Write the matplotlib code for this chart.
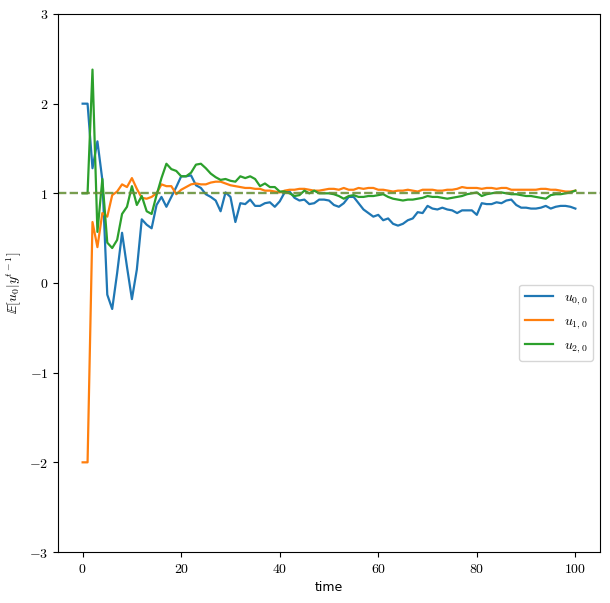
import matplotlib
matplotlib.use("Agg")
import matplotlib.pyplot as plt
from matplotlib.ticker import FuncFormatter
import numpy as np

plt.rcParams['mathtext.fontset'] = 'cm'

time = list(range(101))

u00 = [2.0, 2.0, 1.28, 1.58, 1.15, -0.13, -0.29, 0.11, 0.56, 0.18,
       -0.18, 0.15, 0.71, 0.65, 0.61, 0.87, 0.96, 0.85, 0.96, 1.07,
       1.19, 1.19, 1.20, 1.09, 1.06, 0.99, 0.96, 0.92, 0.80, 1.01,
       0.96, 0.68, 0.89, 0.88, 0.93, 0.86, 0.86, 0.89, 0.90, 0.85,
       0.91, 1.01, 1.02, 0.95, 0.92, 0.93, 0.88, 0.89, 0.93, 0.93,
       0.92, 0.87, 0.85, 0.89, 0.96, 0.96, 0.89, 0.82, 0.78, 0.74,
       0.76, 0.70, 0.72, 0.66, 0.64, 0.66, 0.70, 0.72, 0.79, 0.78,
       0.86, 0.83, 0.82, 0.84, 0.82, 0.81, 0.78, 0.81, 0.81, 0.81,
       0.76, 0.89, 0.88, 0.88, 0.90, 0.89, 0.92, 0.93, 0.87, 0.84,
       0.84, 0.83, 0.83, 0.84, 0.86, 0.83, 0.85, 0.86, 0.86, 0.85,
       0.83]

u10 = [-2.0, -2.0, 0.68, 0.40, 0.78, 0.74, 0.98, 1.02, 1.10, 1.07,
       1.17, 1.05, 0.95, 0.94, 0.96, 1.00, 1.10, 1.08, 1.08, 0.99,
       1.04, 1.07, 1.10, 1.11, 1.10, 1.10, 1.12, 1.13, 1.13, 1.11,
       1.09, 1.08, 1.07, 1.06, 1.06, 1.05, 1.05, 1.03, 1.03, 1.02,
       1.01, 1.03, 1.04, 1.04, 1.05, 1.05, 1.04, 1.03, 1.03, 1.04,
       1.05, 1.05, 1.04, 1.06, 1.04, 1.04, 1.06, 1.05, 1.06, 1.06,
       1.04, 1.04, 1.03, 1.02, 1.03, 1.03, 1.04, 1.03, 1.02, 1.04,
       1.04, 1.04, 1.03, 1.03, 1.04, 1.04, 1.05, 1.07, 1.06, 1.06,
       1.06, 1.05, 1.06, 1.06, 1.05, 1.06, 1.06, 1.04, 1.04, 1.04,
       1.04, 1.04, 1.04, 1.05, 1.05, 1.04, 1.04, 1.03, 1.02, 1.02,
       1.03]

u20 = [1.0, 1.0, 2.38, 0.57, 1.16, 0.45, 0.39, 0.48, 0.77, 0.85,
       1.08, 0.87, 0.97, 0.80, 0.77, 0.98, 1.17, 1.33, 1.27, 1.25,
       1.19, 1.19, 1.23, 1.32, 1.33, 1.28, 1.22, 1.18, 1.15, 1.16,
       1.14, 1.13, 1.19, 1.17, 1.19, 1.16, 1.08, 1.11, 1.07, 1.07,
       1.02, 1.02, 1.00, 0.97, 0.98, 1.03, 1.00, 1.03, 1.00, 1.00,
       1.00, 0.99, 0.97, 0.94, 0.97, 0.98, 0.96, 0.96, 0.97, 0.97,
       0.98, 0.99, 0.96, 0.94, 0.93, 0.92, 0.93, 0.93, 0.94, 0.95,
       0.97, 0.96, 0.96, 0.95, 0.94, 0.95, 0.96, 0.97, 0.99, 1.00,
       1.01, 0.97, 0.99, 1.00, 1.01, 1.01, 1.00, 0.99, 0.99, 0.98,
       0.97, 0.97, 0.96, 0.95, 0.94, 0.98, 0.99, 0.99, 1.00, 1.01,
       1.03]

true_values = [1.0, 1.0, 1.0]
labels = [r'$u_{0,0}$', r'$u_{1,0}$', r'$u_{2,0}$']
series = [u00, u10, u20]
colors = ['C0', 'C1', 'C2']

fig = plt.figure(figsize=(6.10, 6.03), dpi=100)
ax = fig.add_axes([58/610, 51/603, 542/610, 538/603])

for s, lab, c in zip(series, labels, colors):
    ax.plot(time, s, color=c, label=lab, lw=1.6)
for tv, c in zip(true_values, colors):
    ax.axhline(tv, color=c, ls='--', alpha=0.5, lw=1.6)

ax.set_ylim(-3, 3)
ax.set_xticks([0, 20, 40, 60, 80, 100])
ax.set_yticks([-3, -2, -1, 0, 1, 2, 3])
fmt = FuncFormatter(lambda v, p: r'$%d$' % int(round(v)))
ax.xaxis.set_major_formatter(fmt)
ax.yaxis.set_major_formatter(fmt)
ax.set_xlabel('time', fontsize=9)
ax.set_ylabel(r'$\mathbb{E}[u_0|y^{t-1}]$')
ax.legend(loc='center right', bbox_to_anchor=(1.0, 0.426))

fig.savefig('out.png', dpi=100)
